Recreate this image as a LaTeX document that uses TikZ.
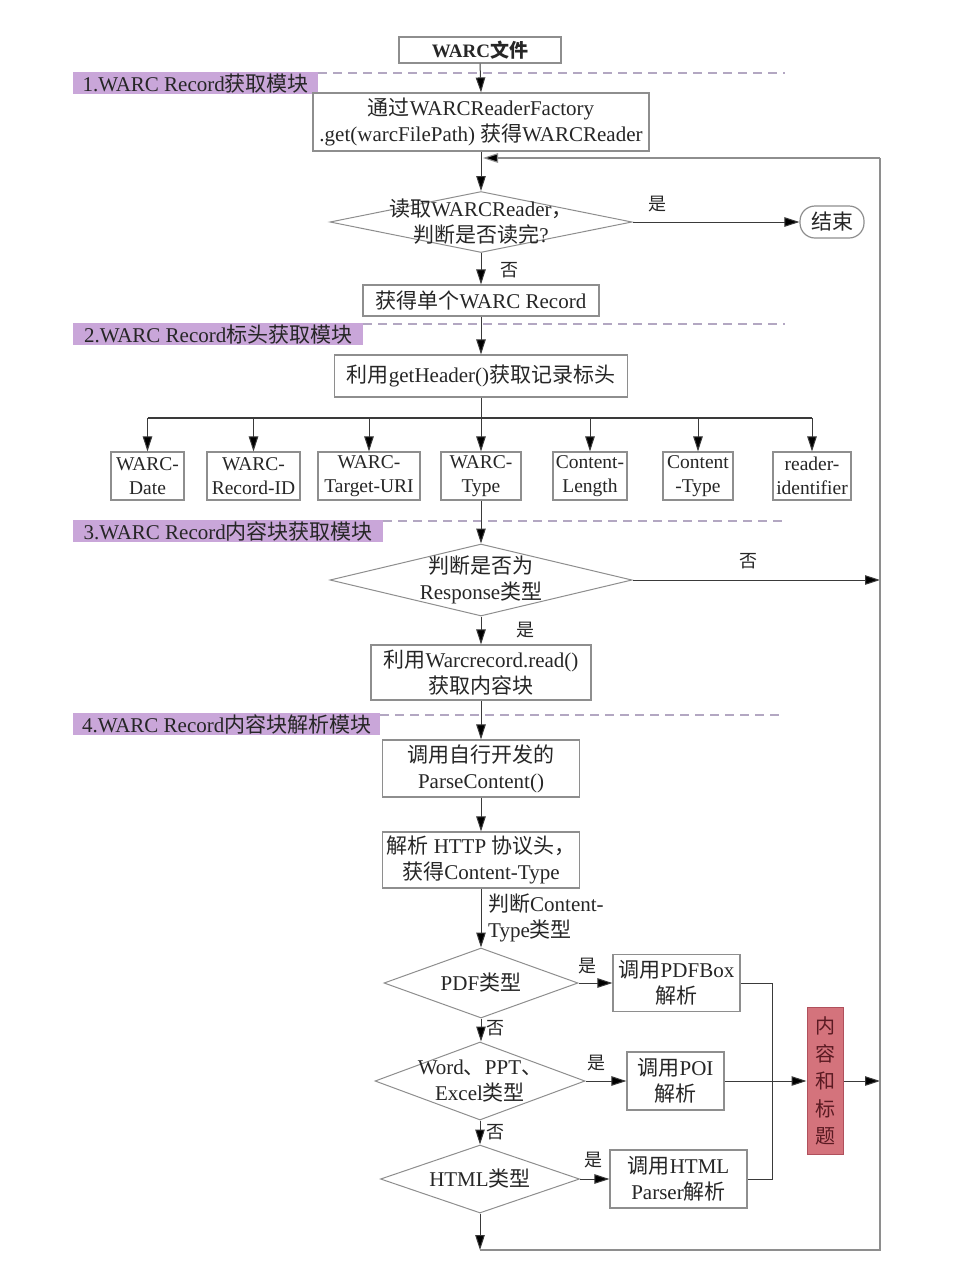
\documentclass[tikz,border=0pt]{standalone}
\usepackage{fontspec}
\setmainfont{Liberation Serif}
\newfontfamily\cjk{Noto Sans CJK SC}
\usetikzlibrary{shapes.geometric,arrows.meta,calc}
\newcommand\zh[1]{{\cjk #1}}
\definecolor{boxgray}{HTML}{8E8E8E}
\definecolor{linegray}{HTML}{3A3A3A}
\definecolor{dashgray}{HTML}{B3A7C2}
\definecolor{labpurple}{HTML}{C9A6D9}
\definecolor{redfill}{HTML}{D4737C}
\definecolor{redborder}{HTML}{B0505C}
\definecolor{redtext}{HTML}{5A1A22}
\begin{document}
\begin{tikzpicture}[x=1pt,y=-1pt,
  every node/.style={font=\fontsize{21}{26}\selectfont, text=black!85},
  box/.style={draw=boxgray, line width=1.2pt, align=center, inner sep=1pt},
  small/.style={font=\fontsize{19.5}{24}\selectfont},
  dia/.style={diamond, draw=boxgray, line width=1pt, inner sep=0pt},
  txt/.style={align=center, inner sep=0pt},
  lab/.style={fill=labpurple, inner xsep=3pt, inner ysep=0pt, minimum height=22pt, font=\fontsize{21}{22}\selectfont},
  dashln/.style={draw=dashgray, line width=1.6pt, dash pattern=on 9pt off 6pt},
  ln/.style={draw=linegray, line width=1pt},
  tip/.style={-{Triangle[length=15pt,width=9.5pt,fill=black]}},
  arr/.style={ln, tip},
  fbln/.style={draw=boxgray, line width=1.1pt},
  yn/.style={inner sep=0pt, font=\cjk\fontsize{18}{20}\selectfont}
]
\useasboundingbox[fill=white] (0,0) rectangle (954,1270);

% ---- coordinates for free ends
\coordinate (e1) at (785,73);
\coordinate (e2) at (785,324);
\coordinate (e3) at (785,521);
\coordinate (e4) at (785,715);
\coordinate (fbin) at (483,158);
\coordinate (rt) at (880,158);
\coordinate (rb) at (880,1250);
\coordinate (bot) at (481,1250);
\coordinate (rno) at (880,580);
\coordinate (rout) at (880,1081);
\coordinate (bus) at (481,418);
\coordinate (busL) at (147.5,418);
\coordinate (busR) at (812,418);
\coordinate (mt) at (772,983);
\coordinate (mb) at (772,1179);

% ---- section labels
\node[lab, anchor=north west, minimum width=245pt] (l1) at (73,72) {1.WARC Record\zh{获取模块}};
\node[lab, anchor=north west, minimum width=290pt] (l2) at (73,323) {2.WARC Record\zh{标头获取模块}};
\node[lab, anchor=north west, minimum width=310pt] (l3) at (73,520) {3.WARC Record\zh{内容块获取模块}};
\node[lab, anchor=north west, minimum width=307pt] (l4) at (73,713) {4.WARC Record\zh{内容块解析模块}};
\draw[dashln] (l1.north east |- e1) -- (e1);
\draw[dashln] (l2.north east |- e2) -- (e2);
\draw[dashln] (l3.north east |- e3) -- (e3);
\draw[dashln] (l4.north east |- e4) -- (e4);

% ---- main nodes
\node[box, minimum width=162pt, minimum height=26pt, font=\bfseries\fontsize{19}{22}\selectfont] (warc) at (480,50) {WARC\zh{\bfseries 文件}};
\node[box, minimum width=336pt, minimum height=58pt] (a) at (481,122) {\zh{通过}WARCReaderFactory\\.get(warcFilePath) \zh{获得}WARCReader};

\node[dia, minimum width=302pt, minimum height=61pt] (d1) at (481,222) {};
\node[txt] (d1t) at (d1) {\zh{读取}WARCReader\zh{，}\\\zh{判断是否读完}?};
\node[box, rounded corners=15pt, minimum width=64pt, minimum height=32pt] (end) at (832,222) {\zh{结束}};

\node[box, minimum width=236pt, minimum height=31pt] (b) at (481,300.5) {\zh{获得单个}WARC Record};
\node[box, minimum width=293pt, minimum height=42pt] (c) at (481,376) {\zh{利用}getHeader()\zh{获取记录标头}};

% header fields
\node[box, small, minimum width=73pt, minimum height=48pt] (h1) at (147.5,476) {WARC-\\Date};
\node[box, small, minimum width=93pt, minimum height=48pt] (h2) at (253.5,476) {WARC-\\Record-ID};
\node[box, small, minimum width=102pt, minimum height=48pt] (h3) at (369,476) {WARC-\\Target-URI};
\node[box, small, minimum width=80pt, minimum height=48pt] (h4) at (481,476) {WARC-\\Type};
\node[box, small, minimum width=74pt, minimum height=48pt] (h5) at (590,476) {Content-\\Length};
\node[box, small, minimum width=70pt, minimum height=48pt] (h6) at (698,476) {Content\\-Type};
\node[box, small, minimum width=78pt, minimum height=48pt] (h7) at (812,476) {reader-\\identifier};

\node[dia, minimum width=302pt, minimum height=72pt] (d2) at (481,580) {};
\node[txt] (d2t) at (d2) {\zh{判断是否为}\\Response\zh{类型}};

\node[box, minimum width=220pt, minimum height=55pt] (d) at (481,672.5) {\zh{利用}Warcrecord.read()\\\zh{获取内容块}};
\node[box, minimum width=197pt, minimum height=57pt] (e) at (481,768.5) {\zh{调用自行开发的}\\ParseContent()};
\node[box, minimum width=197pt, minimum height=56pt] (f) at (481,860) {\zh{解析} HTTP \zh{协议头，}\\\zh{获得}Content-Type};
\node[txt, align=left, anchor=north west] (ft) at (488,894) {\zh{判断}Content-\\Type\zh{类型}};

\node[dia, minimum width=194pt, minimum height=70pt] (p) at (481,983) {};
\node[txt] (pt) at (p) {PDF\zh{类型}};
\node[box, minimum width=127pt, minimum height=57pt] (pb) at (676.5,983) {\zh{调用}PDFBox\\\zh{解析}};

\node[dia, minimum width=210pt, minimum height=78pt] (w) at (480,1081) {};
\node[txt] (wt) at (w) {Word\zh{、}PPT\zh{、}\\Excel\zh{类型}};
\node[box, minimum width=97pt, minimum height=58pt] (poi) at (675.5,1081) {\zh{调用}POI\\\zh{解析}};

\node[dia, minimum width=199pt, minimum height=68pt] (hd) at (480,1179) {};
\node[txt] (hdt) at (hd) {HTML\zh{类型}};
\node[box, minimum width=137pt, minimum height=58pt] (hp) at (678.5,1179) {\zh{调用}HTML\\Parser\zh{解析}};

\node[draw=redborder, line width=1pt, fill=redfill, minimum width=36pt, minimum height=147pt, inner sep=0pt, align=center, text=redtext, font=\cjk\fontsize{20}{27.5}\selectfont] (red) at (825,1081) {内\\容\\和\\标\\题};

% ---- connectors
\draw[arr] (warc.south) -- (a.north);
\draw[arr] (a.south) -- (d1.north);
\draw[arr] (d1.east) -- (end.west);
\draw[arr] (d1.south) -- (b.north);
\draw[arr] (b.south) -- (c.north);
\draw[ln] (c.south) -- (bus);
\draw[ln, line width=1.6pt] (busL) -- (busR);
\draw[arr] (busL) -- (h1.north);
\draw[arr] (h2.north |- bus) -- (h2.north);
\draw[arr] (h3.north |- bus) -- (h3.north);
\draw[arr] (bus) -- (h4.north);
\draw[arr] (h5.north |- bus) -- (h5.north);
\draw[arr] (h6.north |- bus) -- (h6.north);
\draw[arr] (busR) -- (h7.north);
\draw[arr] (h4.south) -- (d2.north);
\draw[arr] (d2.east) -- (rno);
\draw[arr] (d2.south) -- (d.north);
\draw[arr] (d.south) -- (e.north);
\draw[arr] (e.south) -- (f.north);
\draw[arr] (f.south) -- (p.north);
\draw[arr] (p.east) -- (pb.west);
\draw[arr] (p.south) -- (p.south |- w.north);
\draw[arr] (w.east) -- (poi.west);
\draw[arr] (w.south) -- (w.south |- hd.north);
\draw[arr] (hd.east) -- (hp.west);
\draw[arr] (hd.south) -- (hd.south |- bot);
\draw[ln] (pb.east) -- (mt) -- (mb) -- (hp.east);
\draw[arr] (poi.east) -- (red.west);
\draw[arr] (red.east) -- (rout);
\draw[fbln] (hd.south |- bot) -- (rb) -- (rt);
\draw[fbln, tip] (rt) -- (fbin);

% ---- yes / no labels
\node[yn] (y1) at (657,204) {是};
\node[yn] (n1) at (509,270) {否};
\node[yn] (n2) at (748,561) {否};
\node[yn] (y2) at (525,630) {是};
\node[yn] (y3) at (587,966) {是};
\node[yn] (n3) at (495,1028) {否};
\node[yn] (y4) at (596,1063) {是};
\node[yn] (n4) at (495,1132) {否};
\node[yn] (y5) at (593,1160) {是};
\end{tikzpicture}
\end{document}
